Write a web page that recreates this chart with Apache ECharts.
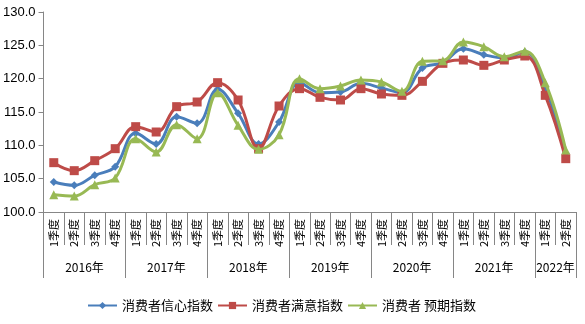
<!DOCTYPE html>
<html>
<head>
<meta charset="utf-8">
<script src="https://cdn.jsdelivr.net/npm/echarts@6/dist/echarts.min.js"></script>
<style>
  html, body { margin: 0; padding: 0; background: #fff; }
  #chart { width: 585px; height: 324px; }
</style>
</head>
<body>
<div id="chart"></div>
<script>
// Quarterly consumer indices, 2016 Q1 – 2022 Q2
const years = ['2016年', '2017年', '2018年', '2019年', '2020年', '2021年', '2022年'];
const quartersPerYear = [4, 4, 4, 4, 4, 4, 2];
const quarterNames = ['1季度', '2季度', '3季度', '4季度'];

const seriesNames = ['消费者信心指数', '消费者满意指数', '消费者 预期指数'];

const confidence = [
  104.5, 104.0, 105.5, 106.8,
  111.8, 110.2, 114.3, 113.3,
  118.4, 114.8, 110.2, 113.5,
  119.4, 117.9, 118.0, 119.3,
  118.6, 117.9, 121.6, 122.4,
  124.5, 123.6, 123.1, 124.0,
  118.6, 108.8
];
const satisfaction = [
  107.4, 106.2, 107.7, 109.5,
  112.8, 112.0, 115.8, 116.5,
  119.4, 116.8, 109.5, 115.9,
  118.5, 117.2, 116.8, 118.5,
  117.7, 117.5, 119.6, 122.3,
  122.8, 122.0, 122.8, 123.4,
  117.5, 108.0
];
const expectation = [
  102.6, 102.4, 104.1, 105.1,
  111.0, 109.0, 113.1, 111.0,
  117.9, 113.0, 109.4, 111.6,
  120.0, 118.5, 118.9, 119.8,
  119.5, 118.1, 122.6, 122.7,
  125.5, 124.8, 123.3, 124.1,
  119.4, 109.3
];

const yMin = 100, yMax = 130, yStep = 5;

// Quarter category labels
const quarters = [];
quartersPerYear.forEach(n => { for (let q = 0; q < n; q++) quarters.push(quarterNames[q]); });

// Year band axis: one point per quarter boundary, year name at each band's middle
const boundaryCount = quarters.length + 1;
const yearAxis = new Array(boundaryCount).fill('');
const yearEdges = new Set([0]);
let pos = 0;
quartersPerYear.forEach((n, i) => {
  yearAxis[pos + n / 2] = years[i];
  pos += n;
  yearEdges.add(pos);
});

const cjk = '"Noto Sans CJK SC", "Liberation Sans", sans-serif';
const num = '"Liberation Sans", "Noto Sans CJK SC", sans-serif';
const axisGray = '#868686';

const colors = ['#4a7ebb', '#be4b48', '#98b954'];
const symbols = ['diamond', 'rect', 'triangle'];
const symbolSizes = [8, 9, 9];
const values = [confidence, satisfaction, expectation];

const chart = echarts.init(document.getElementById('chart'), null, { renderer: 'canvas' });

chart.setOption({
  animation: false,
  backgroundColor: '#ffffff',
  grid: { left: 41, right: 9, top: 12, bottom: 112, containLabel: false },
  legend: {
    left: 87,
    top: 299,
    padding: 0,
    itemWidth: 29,
    itemHeight: 9,
    itemGap: 4,
    textStyle: { fontSize: 13, color: '#000', fontFamily: cjk },
    data: seriesNames
  },
  xAxis: [
    {
      type: 'category',
      data: quarters,
      boundaryGap: true,
      axisLine: { show: true, lineStyle: { color: axisGray, width: 1 } },
      axisTick: { show: true, interval: 0, length: 33, lineStyle: { color: axisGray } },
      axisLabel: {
        interval: 0, rotate: 90, margin: 7,
        fontSize: 11, color: '#000', fontFamily: cjk
      },
      splitLine: { show: false }
    },
    {
      type: 'category',
      data: yearAxis,
      boundaryGap: false,
      position: 'bottom',
      axisLine: { show: false },
      axisTick: {
        show: true, length: 66,
        interval: (idx) => yearEdges.has(idx),
        lineStyle: { color: axisGray }
      },
      axisLabel: {
        interval: 0, margin: 49,
        fontSize: 12, color: '#000', fontFamily: cjk
      },
      splitLine: { show: false }
    }
  ],
  yAxis: {
    type: 'value',
    min: yMin, max: yMax, interval: yStep,
    axisLine: { show: true, lineStyle: { color: axisGray, width: 1 } },
    axisTick: { show: true, length: 5, lineStyle: { color: axisGray } },
    axisLabel: {
      formatter: v => v.toFixed(1),
      fontSize: 13, color: '#000', fontFamily: num, margin: 8
    },
    splitLine: { show: false }
  },
  series: seriesNames.map((name, i) => ({
    name,
    type: 'line',
    xAxisIndex: 0,
    data: values[i],
    smooth: 0.4,
    symbol: symbols[i],
    symbolSize: symbolSizes[i],
    showAllSymbol: true,
    color: colors[i],
    lineStyle: { width: 3, color: colors[i] },
    itemStyle: { color: colors[i] },
    z: 2 + i
  }))
});
</script>
</body>
</html>
